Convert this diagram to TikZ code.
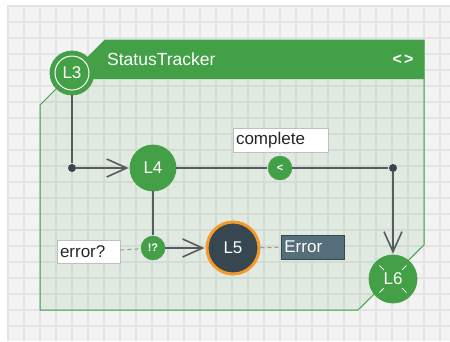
\documentclass[tikz,border=0pt]{standalone}
\usepackage{fontspec}
\setmainfont{Liberation Sans}
\usetikzlibrary{arrows.meta,shapes,automata}

\definecolor{leaf}{HTML}{43A047}
\definecolor{slate}{HTML}{37474F}
\definecolor{slatebox}{HTML}{546E7A}
\definecolor{amber}{HTML}{F39A2B}
\definecolor{wire}{HTML}{575B5C}
\definecolor{paper}{HTML}{F3F3F3}
\definecolor{rule}{HTML}{E3E3E3}

\begin{document}
\begin{tikzpicture}[x=1pt,y=-1pt,>={Straight Barb[length=20pt,width=18pt]}]
  \tikzset{every state/.style={fill=leaf,draw=leaf,text=white,inner sep=0pt,line width=0.8pt,font=\fontsize{17}{17}\selectfont},
    guard/.style={circle,fill=leaf,draw=leaf,text=white,minimum size=24pt,inner sep=0pt,font=\bfseries\fontsize{11}{11}\selectfont},
    joint/.style={circle,fill=slate,minimum size=8pt,inner sep=0pt},
    tag/.style={draw=black!25,fill=white,text=black!85,line width=0.8pt,minimum height=24pt,inner sep=3pt,text width=57pt,align=left,font=\fontsize{17}{17}\selectfont},
    flow/.style={draw=wire,line width=1.6pt,shorten >=1pt},
    hint/.style={draw=black!40,line width=1pt,dash pattern=on 4pt off 3pt}}
  \useasboundingbox (0,0) rectangle (450,341);

  % squared paper
  \fill[white] (0,0) rectangle (450,341);
  \fill[paper] (8,5) rectangle (450,341);
  \foreach \x in {8,24,...,440} \draw[rule,line width=1.5pt] (\x,5) -- (\x,341);
  \foreach \y in {6,22,...,330} \draw[rule,line width=1.5pt] (8,\y) -- (450,\y);

  % the StatusTracker region with its header
  \filldraw[draw=leaf,fill=leaf,fill opacity=0.1,line width=1pt]
    (105,40) -- (424,40) -- (424,245) -- (358,310) -- (40,310) -- (40,105) -- cycle;
  \fill[leaf] (105,40) -- (424,40) -- (424,79) -- (66,79) -- cycle;
  \node[text=white,anchor=west,inner sep=0pt,font=\fontsize{17.5}{17.5}\selectfont] (title) at (107,59) {StatusTracker};
  \node[text=white,inner sep=0pt,font=\bfseries\fontsize{16}{16}\selectfont] (view) at (403,60) {<\kern2pt>};

  \node[state,minimum size=44pt] (L3) at (72,73) {L3};
  \draw[white,line width=1pt] (L3.center) circle[radius=17pt];
  \node[joint] (j1) at (72,168) {};
  \node[state,minimum size=46pt] (L4) at (153,168) {L4};
  \node[guard] (g1) at (280,168) {<};
  \node[joint] (j2) at (393,168) {};
  \node[state,minimum size=48pt] (L6) at (393,279) {L6};
  \foreach \a in {45,135,225,315}
    \draw[white,line width=1pt] ([shift={(\a:13pt)}]L6.center) -- ([shift={(\a:19pt)}]L6.center);
  \node[guard] (g2) at (153,248) {!?};
  \node[state,minimum size=52pt,fill=slate,draw=amber,line width=3pt] (L5) at (233,248) {L5};

  \node[tag,text=white,fill=slatebox,draw=slate,anchor=west] (err) at (281,247) {Error};
  \node[tag,minimum height=23pt] (ask) at (88.5,252) {error?};
  \node[tag,text width=89pt] (done) at (280.5,140) {complete};

  \path[flow,->] (L3) edge[-] (j1)
                 (j1) edge (L4)
                 (L4) edge[-] (g1)
                 (g1) edge[-] (j2)
                 (j2) edge (L6)
                 (L4) edge[-] (g2)
                 (g2) edge (L5);
  \path[hint] (ask) edge (g2)
              (L5) edge (err);
\end{tikzpicture}
\end{document}
